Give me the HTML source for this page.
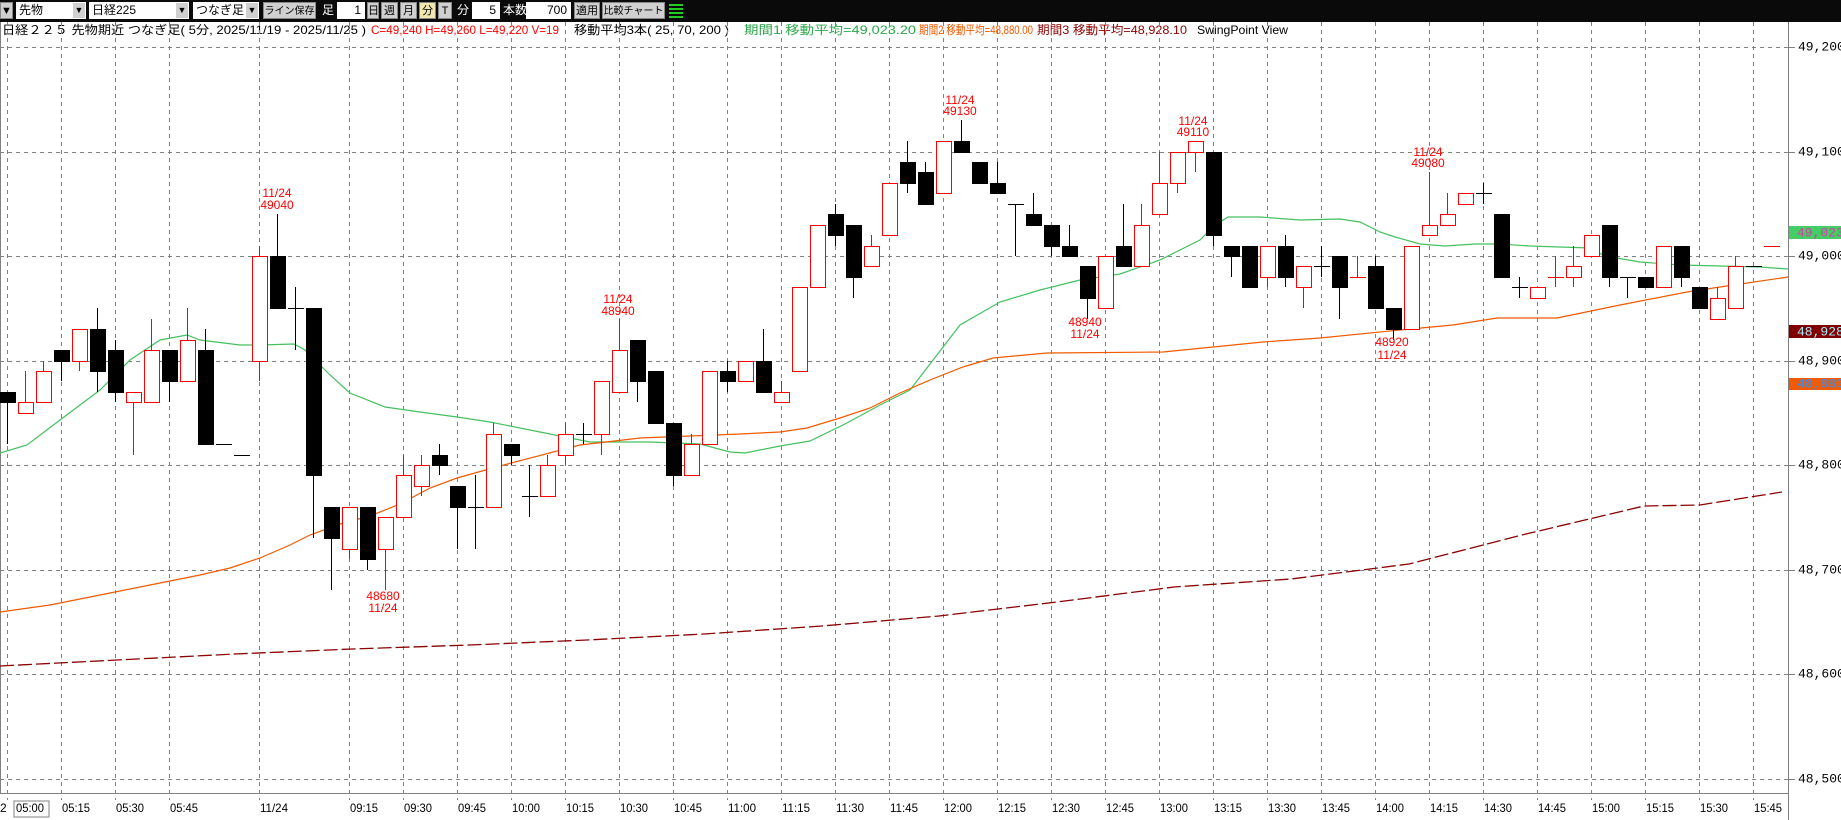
<!DOCTYPE html>
<html><head><meta charset="utf-8"><style>
html,body{margin:0;padding:0;background:#fff;width:1841px;height:820px;overflow:hidden;font-family:"Liberation Sans","Noto Sans CJK JP",sans-serif}
#tb{position:absolute;left:0;top:0;width:1841px;height:22px;background:#0a0a0a}
.w{position:absolute;top:2px;height:17px;background:#fff;font-size:12px;line-height:17px;color:#000;box-sizing:border-box;padding-left:3px;white-space:nowrap;overflow:hidden}
.b{position:absolute;top:2px;height:17px;background:#d0d0d0;font-size:11px;line-height:17px;color:#000;text-align:center;box-sizing:border-box;border:1px solid #888;white-space:nowrap;overflow:hidden}
.l{position:absolute;top:2px;height:17px;font-size:12px;line-height:17px;color:#fff;white-space:nowrap}
.dd{position:absolute;top:3px;width:12px;height:15px;background:#d0d0d0;font-size:9px;line-height:15px;text-align:center;color:#000}
svg{position:absolute;left:0;top:0}
</style></head><body>
<div id="tb">
<div class="b" style="left:0;width:13px">▼</div>
<div class="w" style="left:16px;width:70px">先物</div><div class="dd" style="left:73px">▼</div>
<div class="w" style="left:89px;width:100px">日経225</div><div class="dd" style="left:176px">▼</div>
<div class="w" style="left:193px;width:66px">つなぎ足</div><div class="dd" style="left:246px">▼</div>
<div class="b" style="left:263px;width:53px;font-size:10px">ライン保存</div>
<div class="l" style="left:322px">足</div>
<div class="w" style="left:337px;width:28px;text-align:right;padding-right:4px">1</div>
<div class="b" style="left:367px;width:12px">日</div>
<div class="b" style="left:381px;width:17px">週</div>
<div class="b" style="left:400px;width:17px">月</div>
<div class="b" style="left:419px;width:17px;background:#f0e8b0">分</div>
<div class="b" style="left:438px;width:14px">T</div>
<div class="l" style="left:457px">分</div>
<div class="w" style="left:472px;width:28px;text-align:right;padding-right:4px">5</div>
<div class="l" style="left:503px">本数</div>
<div class="w" style="left:526px;width:45px;text-align:right;padding-right:4px">700</div>
<div class="b" style="left:574px;width:26px">適用</div>
<div class="b" style="left:602px;width:63px;font-size:10px">比較チャート</div>
<div style="position:absolute;left:669px;top:4px;width:14px;height:14px;background:repeating-linear-gradient(#2c2 0 2px,#0a0a0a 2px 4px)"></div>
</div>
<svg width="1841" height="820" viewBox="0 0 1841 820" id="s" style="top:0" xmlns="http://www.w3.org/2000/svg">
<g font-family="Liberation Sans,Noto Sans CJK JP,sans-serif" font-size="12" dominant-baseline="middle">
<text x="2" y="31" textLength="364" lengthAdjust="spacingAndGlyphs">日経２２５ 先物期近 つなぎ足( 5分, 2025/11/19 - 2025/11/25 )</text>
<text x="371" y="31" fill="#f00" textLength="188" lengthAdjust="spacingAndGlyphs">C=49,240 H=49,260 L=49,220 V=19</text>
<text x="574" y="31" textLength="155" lengthAdjust="spacingAndGlyphs">移動平均3本( 25, 70, 200 )</text>
<text x="744" y="31" fill="#2ca84a" textLength="172" lengthAdjust="spacingAndGlyphs">期間1 移動平均=49,023.20</text>
<text x="919" y="31" fill="#f05a00" textLength="114" lengthAdjust="spacingAndGlyphs">期間2 移動平均=48,880.00</text>
<text x="1037" y="31" fill="#8b0000" textLength="150" lengthAdjust="spacingAndGlyphs">期間3 移動平均=48,928.10</text>
<text x="1197" y="31" textLength="91" lengthAdjust="spacingAndGlyphs">SwingPoint View</text>
</g>
<g id="grid"></g>
<line x1="1788.5" y1="22" x2="1788.5" y2="820" stroke="#808080"/>
<line x1="0" y1="793.5" x2="1788" y2="793.5" stroke="#808080"/>
<line x1="0.5" y1="22" x2="0.5" y2="793" stroke="#808080"/>
<g font-family="Liberation Mono,monospace" font-size="13" dominant-baseline="middle">
<text x="1798" y="47">49,200.00</text><text x="1798" y="152">49,100.00</text>
<text x="1798" y="256">49,000.00</text><text x="1798" y="361">48,900.00</text>
<text x="1798" y="465">48,800.00</text><text x="1798" y="570">48,700.00</text>
<text x="1798" y="674">48,600.00</text><text x="1798" y="779">48,500.00</text>
<rect x="1789" y="226" width="52" height="13" fill="#44cc66"/><text x="1797" y="233" fill="#d040a0">49,023.20</text>
<rect x="1789" y="325" width="52" height="13" fill="#800000"/><text x="1797" y="332" fill="#a0f0ff">48,928.10</text>
<rect x="1789" y="378" width="52" height="12" fill="#f05a00"/><text x="1797" y="384" fill="#3090ff">48,880.00</text>
</g>
<g font-family="Liberation Sans,sans-serif" font-size="12" dominant-baseline="middle" id="tl">
<rect x="14" y="801" width="35" height="16" fill="none" stroke="#808080"/>
<text x="0" y="809">2</text>
<text x="16" y="809" textLength="28" lengthAdjust="spacingAndGlyphs">05:00</text>
<text x="62" y="809" textLength="28" lengthAdjust="spacingAndGlyphs">05:15</text>
<text x="116" y="809" textLength="28" lengthAdjust="spacingAndGlyphs">05:30</text>
<text x="170" y="809" textLength="28" lengthAdjust="spacingAndGlyphs">05:45</text>
<text x="260" y="809" textLength="28" lengthAdjust="spacingAndGlyphs">11/24</text>
<text x="350" y="809" textLength="28" lengthAdjust="spacingAndGlyphs">09:15</text>
<text x="404" y="809" textLength="28" lengthAdjust="spacingAndGlyphs">09:30</text>
<text x="458" y="809" textLength="28" lengthAdjust="spacingAndGlyphs">09:45</text>
<text x="512" y="809" textLength="28" lengthAdjust="spacingAndGlyphs">10:00</text>
<text x="566" y="809" textLength="28" lengthAdjust="spacingAndGlyphs">10:15</text>
<text x="620" y="809" textLength="28" lengthAdjust="spacingAndGlyphs">10:30</text>
<text x="674" y="809" textLength="28" lengthAdjust="spacingAndGlyphs">10:45</text>
<text x="728" y="809" textLength="28" lengthAdjust="spacingAndGlyphs">11:00</text>
<text x="782" y="809" textLength="28" lengthAdjust="spacingAndGlyphs">11:15</text>
<text x="836" y="809" textLength="28" lengthAdjust="spacingAndGlyphs">11:30</text>
<text x="890" y="809" textLength="28" lengthAdjust="spacingAndGlyphs">11:45</text>
<text x="944" y="809" textLength="28" lengthAdjust="spacingAndGlyphs">12:00</text>
<text x="998" y="809" textLength="28" lengthAdjust="spacingAndGlyphs">12:15</text>
<text x="1052" y="809" textLength="28" lengthAdjust="spacingAndGlyphs">12:30</text>
<text x="1106" y="809" textLength="28" lengthAdjust="spacingAndGlyphs">12:45</text>
<text x="1160" y="809" textLength="28" lengthAdjust="spacingAndGlyphs">13:00</text>
<text x="1214" y="809" textLength="28" lengthAdjust="spacingAndGlyphs">13:15</text>
<text x="1268" y="809" textLength="28" lengthAdjust="spacingAndGlyphs">13:30</text>
<text x="1322" y="809" textLength="28" lengthAdjust="spacingAndGlyphs">13:45</text>
<text x="1376" y="809" textLength="28" lengthAdjust="spacingAndGlyphs">14:00</text>
<text x="1430" y="809" textLength="28" lengthAdjust="spacingAndGlyphs">14:15</text>
<text x="1484" y="809" textLength="28" lengthAdjust="spacingAndGlyphs">14:30</text>
<text x="1538" y="809" textLength="28" lengthAdjust="spacingAndGlyphs">14:45</text>
<text x="1592" y="809" textLength="28" lengthAdjust="spacingAndGlyphs">15:00</text>
<text x="1646" y="809" textLength="28" lengthAdjust="spacingAndGlyphs">15:15</text>
<text x="1700" y="809" textLength="28" lengthAdjust="spacingAndGlyphs">15:30</text>
<text x="1754" y="809" textLength="28" lengthAdjust="spacingAndGlyphs">15:45</text>
</g>
<g id="ma" fill="none">
<polyline stroke="#44c060" stroke-width="1.2" points="0,453 27,445 60,420 100,390 130,360 160,340 187,335 200,340 240,345 260,345 294,344 305,350 330,375 350,393 385,407 420,412 457,417 490,422 540,432 590,442 650,442 700,444 730,452 745,453 780,446 810,441 845,424 880,405 910,390 960,325 1000,302 1040,290 1080,280 1120,274 1160,260 1200,240 1215,225 1228,217 1260,217 1300,220 1340,219 1360,222 1380,232 1395,237 1420,244 1445,246 1475,244 1500,244 1530,246 1560,247 1590,248 1605,256 1640,262 1680,265 1720,266 1760,267 1788,269"/>
<polyline stroke="#f05a00" stroke-width="1.2" points="0,612 50,605 100,595 150,585 200,575 230,568 260,558 290,545 310,535 340,524 370,516 400,504 430,488 457,478 500,466 580,445 640,438 740,434 780,432 807,428 840,418 870,408 900,393 930,380 963,367 993,358 1047,353 1163,352 1213,347 1263,342 1320,338 1400,330 1453,325 1497,318 1557,318 1620,305 1687,292 1720,287 1788,277"/>
<polyline stroke="#8b0000" stroke-width="1.3" stroke-dasharray="14,4" points="0,666 117,660 235,654 352,649 470,645 587,640 704,634 822,626 939,616 1057,602 1174,587 1291,579 1409,564 1526,534 1644,506 1700,505 1782,492"/>
</g>
<g id="cd"></g>
<g font-family="Liberation Sans,sans-serif" font-size="12" fill="#f00" text-anchor="middle" dominant-baseline="middle">
<text x="277" y="194">11/24</text><text x="277" y="206">49040</text>
<text x="383" y="597">48680</text><text x="383" y="609">11/24</text>
<text x="618" y="300">11/24</text><text x="618" y="312">48940</text>
<text x="960" y="101">11/24</text><text x="960" y="112">49130</text>
<text x="1193" y="122">11/24</text><text x="1193" y="133">49110</text>
<text x="1085" y="323">48940</text><text x="1085" y="335">11/24</text>
<text x="1392" y="343">48920</text><text x="1392" y="356">11/24</text>
<text x="1428" y="153">11/24</text><text x="1428" y="164">49080</text>
</g>
</svg>
<script>
var NS="http://www.w3.org/2000/svg";
function el(p,t,a){var e=document.createElementNS(NS,t);for(var k in a)e.setAttribute(k,a[k]);p.appendChild(e);return e;}
function Y(p){return 256+(49000-p)*1.045;}
var g=document.getElementById('grid');
for(var p=49200;p>=48500;p-=100){var y=Math.round(Y(p))+0.5;el(g,'line',{x1:0,y1:y,x2:1788,y2:y,stroke:'#808080','stroke-dasharray':'4,4'});el(g,'line',{x1:1788,y1:y,x2:1795,y2:y,stroke:'#808080'});}
var gi=[0,3,6,9,14];for(var i=19;i<=97;i+=3)gi.push(i);
gi.forEach(function(i){var x=7+18*i+0.5;el(g,'line',{x1:x,y1:22,x2:x,y2:800,stroke:'#808080','stroke-dasharray':'4,4'});});
var D=[[48870,48870,48820,48860],[48850,48890,48850,48860],[48860,48900,48860,48890],[48910,48910,48880,48900],[48900,48930,48890,48930],[48930,48950,48870,48890],[48910,48920,48860,48870],[48860,48870,48810,48870],[48860,48940,48860,48910],[48910,48910,48860,48880],[48880,48950,48880,48920],[48910,48930,48820,48820],[48820,48820,48820,48820,'k'],[48810,48810,48810,48810,'k'],[48900,49010,48880,49000],[49000,49040,48950,48950],[48950,48970,48910,48950,'k'],[48950,48950,48730,48790],[48760,48760,48680,48730],[48720,48760,48710,48760],[48760,48760,48700,48710],[48720,48750,48680,48750],[48750,48810,48750,48790],[48780,48810,48770,48800],[48810,48820,48790,48800],[48780,48780,48720,48760],[48760,48790,48720,48760,'k'],[48760,48840,48760,48830],[48820,48820,48800,48810],[48770,48800,48750,48770,'k'],[48770,48810,48770,48800],[48810,48840,48800,48830],[48830,48840,48820,48830,'k'],[48830,48880,48810,48880],[48870,48940,48870,48910],[48920,48920,48860,48880],[48890,48890,48840,48840],[48840,48840,48780,48790],[48790,48830,48790,48820],[48820,48890,48820,48890],[48890,48900,48870,48880],[48880,48900,48880,48900],[48900,48930,48870,48870],[48860,48880,48860,48870],[48890,48970,48890,48970],[48970,49030,48970,49030],[49040,49050,49010,49020],[49030,49030,48960,48980],[48990,49020,48990,49010],[49020,49070,49020,49070],[49090,49110,49060,49070],[49080,49090,49050,49050],[49060,49110,49060,49110],[49110,49130,49100,49100],[49090,49090,49070,49070],[49070,49090,49060,49060],[49050,49050,49000,49050,'k'],[49040,49060,49030,49030],[49030,49030,49000,49010],[49010,49030,49000,49000],[48990,48990,48940,48960],[48950,49000,48950,49000],[49010,49050,48990,48990],[48990,49050,48990,49030],[49040,49100,49040,49070],[49070,49100,49060,49100],[49100,49110,49080,49110],[49100,49100,49010,49020],[49010,49010,48980,49000],[49010,49010,48970,48970],[48980,49010,48970,49010],[49010,49020,48970,48980],[48970,48990,48950,48990],[48990,49010,48980,48990,'k'],[49000,49000,48940,48970],[48980,49000,48980,48980,'r'],[48990,49000,48950,48950],[48950,48950,48920,48930],[48930,49010,48930,49010],[49020,49080,49020,49030],[49030,49060,49030,49040],[49050,49060,49050,49060],[49060,49070,49050,49060,'k'],[49040,49040,48980,48980],[48970,48980,48960,48970,'k'],[48960,48970,48960,48970],[48980,49000,48970,48980,'r'],[48980,49010,48970,48990],[49000,49020,49000,49020],[49030,49030,48970,48980],[48980,48980,48960,48980,'k'],[48980,48980,48970,48970],[48970,49010,48970,49010],[49010,49010,48970,48980],[48970,48970,48950,48950],[48940,48970,48940,48960],[48950,49000,48950,48990],[48990,48990,48990,48990,'k'],[49010,49010,49010,49010,'r']];
var c=document.getElementById('cd');
D.forEach(function(d,i){
 var x=7+18*i,O=d[0],H=d[1],L=d[2],C=d[3];
 var col=d[4]||(C>=O?'r':'k');var s=col=='r'?'#f00':'#000';
 var top=Math.round(Y(Math.max(O,C))),bot=Math.round(Y(Math.min(O,C)));
 var yh=Math.round(Y(H)),yl=Math.round(Y(L));
 if(yh<top)el(c,'line',{x1:x+0.5,y1:yh,x2:x+0.5,y2:top,stroke:s});
 if(yl>bot)el(c,'line',{x1:x+0.5,y1:bot,x2:x+0.5,y2:yl,stroke:s});
 if(bot-top<2){el(c,'line',{x1:x-7,y1:top+0.5,x2:x+9,y2:top+0.5,stroke:s});}
 else if(col=='r'){el(c,'rect',{x:x-7+0.5,y:top+0.5,width:15,height:bot-top,fill:'#fff',stroke:s});}
 else{el(c,'rect',{x:x-7,y:top,width:16,height:bot-top+1,fill:'#000'});}
});
</script>
</body></html>
